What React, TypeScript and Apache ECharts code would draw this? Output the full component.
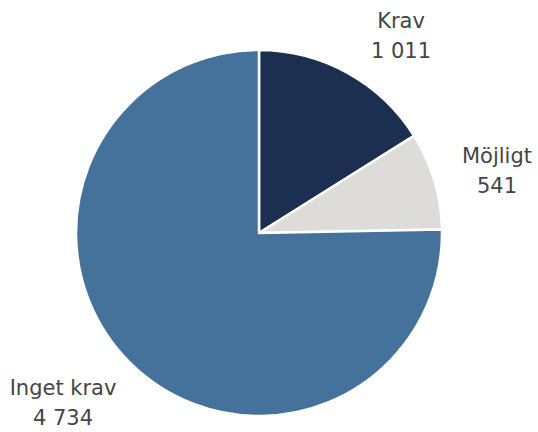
import React, { useEffect, useRef } from "react";
import * as echarts from "echarts";

const categories = ["Krav", "Möjligt", "Inget krav"];
const values = [1011, 541, 4734];
const colors = ["#1c2f50", "#dddcd8", "#45729b"];
const labelPos = [
  [401, 36],
  [497, 171],
  [63, 403],
];

const fmt = (v: number) => String(v).replace(/\B(?=(\d{3})+(?!\d))/g, " ");

export default function App() {
  const ref = useRef<HTMLDivElement>(null);
  useEffect(() => {
    const chart = echarts.init(ref.current!, null, { renderer: "svg" });
    chart.setOption({
      animation: false,
      series: [
        {
          type: "pie",
          center: [259, 233],
          radius: [0, 183],
          startAngle: 90,
          clockwise: true,
          data: categories.map((c, i) => ({
            name: c,
            value: values[i],
            itemStyle: { color: colors[i] },
          })),
          itemStyle: { borderColor: "#ffffff", borderWidth: 2.5 },
          label: {
            show: true,
            formatter: (p: any) => `${p.name}\n${fmt(p.value)}`,
            fontFamily: "'DejaVu Sans', sans-serif",
            fontSize: 21,
            lineHeight: 30,
            color: "#454545",
            align: "center",
            overflow: "none",
            width: 200,
          },
          labelLine: { show: false },
          labelLayout: (params: any) => ({
            x: labelPos[params.dataIndex][0],
            y: labelPos[params.dataIndex][1],
            align: "center",
            verticalAlign: "middle",
          }),
          emphasis: { disabled: true },
        },
      ],
    });
    return () => chart.dispose();
  }, []);
  return (
    <div
      ref={ref}
      style={{ position: "fixed", left: 0, top: 0, width: 538, height: 432, background: "#fff" }}
    />
  );
}
